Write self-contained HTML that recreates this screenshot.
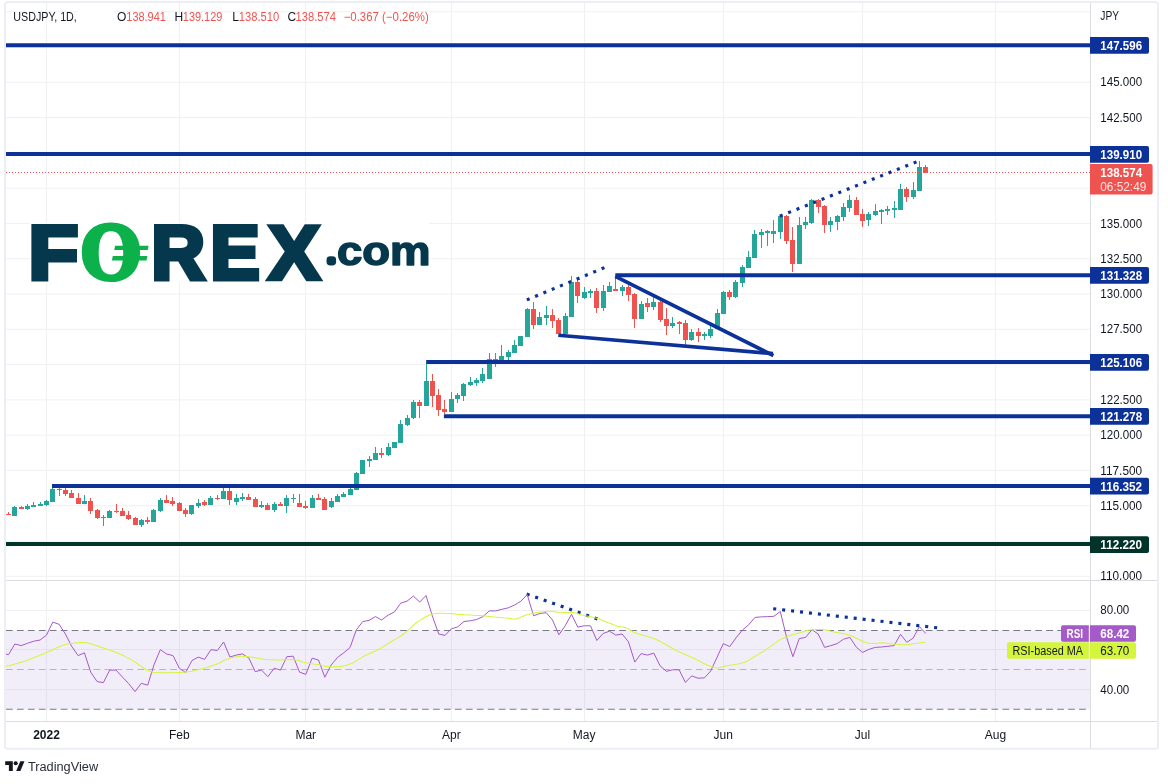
<!DOCTYPE html>
<html lang="en"><head><meta charset="utf-8"><title>USDJPY 1D chart</title>
<style>html,body{margin:0;padding:0;background:#fff}body{width:1168px;height:784px;overflow:hidden}svg{display:block}</style>
</head><body>
<svg width="1168" height="784" viewBox="0 0 1168 784" font-family='"Liberation Sans", sans-serif'>
<rect width="1168" height="784" fill="#fff"/>
<g stroke="#f0f0f2" stroke-width="1" shape-rendering="crispEdges">
<line x1="46.5" y1="2" x2="46.5" y2="721"/>
<line x1="179.5" y1="2" x2="179.5" y2="721"/>
<line x1="305.5" y1="2" x2="305.5" y2="721"/>
<line x1="451.5" y1="2" x2="451.5" y2="721"/>
<line x1="584.5" y1="2" x2="584.5" y2="721"/>
<line x1="723.5" y1="2" x2="723.5" y2="721"/>
<line x1="862.5" y1="2" x2="862.5" y2="721"/>
<line x1="995.5" y1="2" x2="995.5" y2="721"/>
<line x1="5" y1="11.7" x2="1090.5" y2="11.7" shape-rendering="auto"/>
<line x1="5" y1="47.0" x2="1090.5" y2="47.0" shape-rendering="auto"/>
<line x1="5" y1="82.3" x2="1090.5" y2="82.3" shape-rendering="auto"/>
<line x1="5" y1="117.6" x2="1090.5" y2="117.6" shape-rendering="auto"/>
<line x1="5" y1="152.9" x2="1090.5" y2="152.9" shape-rendering="auto"/>
<line x1="5" y1="188.2" x2="1090.5" y2="188.2" shape-rendering="auto"/>
<line x1="5" y1="223.4" x2="1090.5" y2="223.4" shape-rendering="auto"/>
<line x1="5" y1="258.7" x2="1090.5" y2="258.7" shape-rendering="auto"/>
<line x1="5" y1="294.0" x2="1090.5" y2="294.0" shape-rendering="auto"/>
<line x1="5" y1="329.3" x2="1090.5" y2="329.3" shape-rendering="auto"/>
<line x1="5" y1="364.6" x2="1090.5" y2="364.6" shape-rendering="auto"/>
<line x1="5" y1="399.9" x2="1090.5" y2="399.9" shape-rendering="auto"/>
<line x1="5" y1="435.2" x2="1090.5" y2="435.2" shape-rendering="auto"/>
<line x1="5" y1="470.4" x2="1090.5" y2="470.4" shape-rendering="auto"/>
<line x1="5" y1="505.7" x2="1090.5" y2="505.7" shape-rendering="auto"/>
<line x1="5" y1="541.0" x2="1090.5" y2="541.0" shape-rendering="auto"/>
<line x1="5" y1="576.3" x2="1090.5" y2="576.3" shape-rendering="auto"/>
<line x1="5" y1="610" x2="1090.5" y2="610"/>
<line x1="5" y1="649.5" x2="1090.5" y2="649.5"/>
<line x1="5" y1="689.5" x2="1090.5" y2="689.5"/>
</g>
<rect x="78" y="8" width="36" height="7" fill="#fff"/>
<rect x="6" y="630.5" width="1084.5" height="78.79999999999995" fill="#7e57c2" fill-opacity="0.1"/>
<g stroke-width="1.1" fill="none" stroke-dasharray="6.7 4.25">
<line x1="6" y1="630.5" x2="1090.5" y2="630.5" stroke="#787b86"/>
<line x1="6" y1="669.5" x2="1090.5" y2="669.5" stroke="#787b86" stroke-opacity="0.5"/>
<line x1="6" y1="709.3" x2="1090.5" y2="709.3" stroke="#787b86"/>
</g>
<rect x="29.8" y="222.5" width="399.2" height="60" fill="#fff"/>
<g font-family='"Liberation Sans", sans-serif'>
<text transform="translate(28.49 279.10) scale(0.8160 0.7609)" font-size="100" font-weight="bold" fill="#06384d" stroke="#06384d" stroke-width="6.34" stroke-linejoin="miter">F</text>
<text transform="translate(82.35 278.26) scale(0.7386 0.7423)" font-size="100" font-weight="bold" fill="#0db14b" stroke="#0db14b" stroke-width="9.45" stroke-linejoin="round">O</text>
<path d="M110.95 231.29999999999998C119.03 231.29999999999998 123.2 238.66 123.2 252.95C123.2 267.24 119.03 274.59999999999997 110.95 274.59999999999997C102.87 274.59999999999997 98.7 267.24 98.7 252.95C98.7 238.66 102.87 231.29999999999998 110.95 231.29999999999998z" fill="#fff"/>
<text transform="translate(151.42 279.10) scale(0.7397 0.7609)" font-size="100" font-weight="bold" fill="#06384d" stroke="#06384d" stroke-width="6.66" stroke-linejoin="miter">R</text>
<text transform="translate(210.55 279.10) scale(0.7357 0.7609)" font-size="100" font-weight="bold" fill="#06384d" stroke="#06384d" stroke-width="6.68" stroke-linejoin="miter">E</text>
<text transform="translate(268.28 279.35) scale(0.7750 0.7681)" font-size="100" font-weight="bold" fill="#06384d" stroke="#06384d" stroke-width="5.83" stroke-linejoin="miter">X</text>
<text transform="translate(329.25 262.20) scale(0.1500 0.1400)" font-size="100" font-weight="bold" fill="#06384d" stroke="#06384d" stroke-width="49.66" stroke-linejoin="round">.</text>
<text transform="translate(336.88 264.89) scale(0.4554 0.4073)" font-size="100" font-weight="bold" fill="#06384d" stroke="#06384d" stroke-width="3.71" stroke-linejoin="round">com</text>
</g>
<path d="M115.1 245.8H148.6L147.7 250H114.2zM112.8 256.1H147.4L146.5 260.5H111.9z" fill="#0db14b"/>
<g shape-rendering="crispEdges">
<rect x="8" y="512" width="1" height="3" fill="#ef5350"/>
<rect x="6" y="514" width="5" height="1" fill="#ef5350"/>
<rect x="14" y="506" width="1" height="10" fill="#26a69a"/>
<rect x="12" y="507" width="5" height="9" fill="#26a69a"/>
<rect x="21" y="506" width="1" height="3" fill="#ef5350"/>
<rect x="19" y="507" width="5" height="2" fill="#ef5350"/>
<rect x="27" y="504" width="1" height="6" fill="#26a69a"/>
<rect x="25" y="506" width="5" height="3" fill="#26a69a"/>
<rect x="33" y="502" width="1" height="5" fill="#26a69a"/>
<rect x="31" y="505" width="5" height="2" fill="#26a69a"/>
<rect x="40" y="502" width="1" height="4" fill="#26a69a"/>
<rect x="38" y="504" width="5" height="2" fill="#26a69a"/>
<rect x="46" y="500" width="1" height="6" fill="#26a69a"/>
<rect x="44" y="501" width="5" height="4" fill="#26a69a"/>
<rect x="52" y="488" width="1" height="14" fill="#26a69a"/>
<rect x="50" y="489" width="5" height="13" fill="#26a69a"/>
<rect x="59" y="488" width="1" height="8" fill="#ef5350"/>
<rect x="57" y="489" width="5" height="1" fill="#ef5350"/>
<rect x="65" y="488" width="1" height="8" fill="#ef5350"/>
<rect x="63" y="490" width="5" height="4" fill="#ef5350"/>
<rect x="71" y="490" width="1" height="8" fill="#ef5350"/>
<rect x="69" y="493" width="5" height="5" fill="#ef5350"/>
<rect x="78" y="493" width="1" height="11" fill="#ef5350"/>
<rect x="76" y="498" width="5" height="6" fill="#ef5350"/>
<rect x="84" y="495" width="1" height="9" fill="#26a69a"/>
<rect x="82" y="501" width="5" height="3" fill="#26a69a"/>
<rect x="90" y="498" width="1" height="16" fill="#ef5350"/>
<rect x="88" y="501" width="5" height="10" fill="#ef5350"/>
<rect x="97" y="509" width="1" height="10" fill="#ef5350"/>
<rect x="95" y="510" width="5" height="8" fill="#ef5350"/>
<rect x="103" y="515" width="1" height="11" fill="#ef5350"/>
<rect x="101" y="517" width="5" height="1" fill="#ef5350"/>
<rect x="109" y="510" width="1" height="8" fill="#26a69a"/>
<rect x="107" y="511" width="5" height="7" fill="#26a69a"/>
<rect x="116" y="504" width="1" height="9" fill="#ef5350"/>
<rect x="114" y="511" width="5" height="1" fill="#ef5350"/>
<rect x="122" y="508" width="1" height="8" fill="#ef5350"/>
<rect x="120" y="511" width="5" height="5" fill="#ef5350"/>
<rect x="128" y="511" width="1" height="9" fill="#ef5350"/>
<rect x="126" y="515" width="5" height="4" fill="#ef5350"/>
<rect x="135" y="517" width="1" height="8" fill="#ef5350"/>
<rect x="133" y="518" width="5" height="7" fill="#ef5350"/>
<rect x="141" y="519" width="1" height="8" fill="#26a69a"/>
<rect x="139" y="520" width="5" height="5" fill="#26a69a"/>
<rect x="147" y="517" width="1" height="7" fill="#ef5350"/>
<rect x="145" y="520" width="5" height="2" fill="#ef5350"/>
<rect x="153" y="509" width="1" height="13" fill="#26a69a"/>
<rect x="151" y="510" width="5" height="12" fill="#26a69a"/>
<rect x="160" y="498" width="1" height="14" fill="#26a69a"/>
<rect x="158" y="500" width="5" height="11" fill="#26a69a"/>
<rect x="166" y="495" width="1" height="8" fill="#ef5350"/>
<rect x="164" y="500" width="5" height="3" fill="#ef5350"/>
<rect x="172" y="497" width="1" height="9" fill="#ef5350"/>
<rect x="170" y="501" width="5" height="3" fill="#ef5350"/>
<rect x="179" y="502" width="1" height="9" fill="#ef5350"/>
<rect x="177" y="503" width="5" height="8" fill="#ef5350"/>
<rect x="185" y="508" width="1" height="9" fill="#ef5350"/>
<rect x="183" y="510" width="5" height="4" fill="#ef5350"/>
<rect x="191" y="505" width="1" height="10" fill="#26a69a"/>
<rect x="189" y="505" width="5" height="9" fill="#26a69a"/>
<rect x="198" y="499" width="1" height="9" fill="#26a69a"/>
<rect x="196" y="503" width="5" height="3" fill="#26a69a"/>
<rect x="204" y="500" width="1" height="6" fill="#ef5350"/>
<rect x="202" y="502" width="5" height="3" fill="#ef5350"/>
<rect x="210" y="496" width="1" height="9" fill="#26a69a"/>
<rect x="208" y="498" width="5" height="7" fill="#26a69a"/>
<rect x="217" y="495" width="1" height="5" fill="#ef5350"/>
<rect x="215" y="498" width="5" height="1" fill="#ef5350"/>
<rect x="223" y="488" width="1" height="11" fill="#26a69a"/>
<rect x="221" y="491" width="5" height="8" fill="#26a69a"/>
<rect x="229" y="488" width="1" height="17" fill="#ef5350"/>
<rect x="227" y="491" width="5" height="9" fill="#ef5350"/>
<rect x="236" y="494" width="1" height="11" fill="#26a69a"/>
<rect x="234" y="498" width="5" height="4" fill="#26a69a"/>
<rect x="242" y="493" width="1" height="8" fill="#26a69a"/>
<rect x="240" y="497" width="5" height="2" fill="#26a69a"/>
<rect x="248" y="494" width="1" height="6" fill="#ef5350"/>
<rect x="246" y="497" width="5" height="3" fill="#ef5350"/>
<rect x="255" y="497" width="1" height="10" fill="#ef5350"/>
<rect x="253" y="499" width="5" height="8" fill="#ef5350"/>
<rect x="261" y="501" width="1" height="7" fill="#26a69a"/>
<rect x="259" y="505" width="5" height="2" fill="#26a69a"/>
<rect x="267" y="503" width="1" height="7" fill="#ef5350"/>
<rect x="265" y="505" width="5" height="5" fill="#ef5350"/>
<rect x="274" y="502" width="1" height="10" fill="#26a69a"/>
<rect x="272" y="504" width="5" height="6" fill="#26a69a"/>
<rect x="280" y="502" width="1" height="4" fill="#ef5350"/>
<rect x="278" y="504" width="5" height="2" fill="#ef5350"/>
<rect x="286" y="495" width="1" height="18" fill="#26a69a"/>
<rect x="284" y="498" width="5" height="8" fill="#26a69a"/>
<rect x="293" y="494" width="1" height="9" fill="#26a69a"/>
<rect x="291" y="498" width="5" height="1" fill="#26a69a"/>
<rect x="299" y="494" width="1" height="13" fill="#ef5350"/>
<rect x="297" y="503" width="5" height="4" fill="#ef5350"/>
<rect x="305" y="501" width="1" height="8" fill="#ef5350"/>
<rect x="303" y="506" width="5" height="2" fill="#ef5350"/>
<rect x="312" y="495" width="1" height="13" fill="#26a69a"/>
<rect x="310" y="498" width="5" height="10" fill="#26a69a"/>
<rect x="318" y="494" width="1" height="6" fill="#ef5350"/>
<rect x="316" y="498" width="5" height="2" fill="#ef5350"/>
<rect x="324" y="497" width="1" height="13" fill="#ef5350"/>
<rect x="322" y="499" width="5" height="11" fill="#ef5350"/>
<rect x="331" y="498" width="1" height="10" fill="#26a69a"/>
<rect x="329" y="501" width="5" height="6" fill="#26a69a"/>
<rect x="337" y="494" width="1" height="8" fill="#26a69a"/>
<rect x="335" y="496" width="5" height="6" fill="#26a69a"/>
<rect x="343" y="492" width="1" height="5" fill="#26a69a"/>
<rect x="341" y="494" width="5" height="3" fill="#26a69a"/>
<rect x="350" y="488" width="1" height="7" fill="#26a69a"/>
<rect x="348" y="489" width="5" height="6" fill="#26a69a"/>
<rect x="356" y="472" width="1" height="18" fill="#26a69a"/>
<rect x="354" y="473" width="5" height="17" fill="#26a69a"/>
<rect x="362" y="460" width="1" height="14" fill="#26a69a"/>
<rect x="360" y="460" width="5" height="14" fill="#26a69a"/>
<rect x="369" y="456" width="1" height="11" fill="#26a69a"/>
<rect x="367" y="459" width="5" height="2" fill="#26a69a"/>
<rect x="375" y="447" width="1" height="13" fill="#26a69a"/>
<rect x="373" y="453" width="5" height="7" fill="#26a69a"/>
<rect x="381" y="448" width="1" height="10" fill="#ef5350"/>
<rect x="379" y="453" width="5" height="2" fill="#ef5350"/>
<rect x="388" y="443" width="1" height="13" fill="#26a69a"/>
<rect x="386" y="447" width="5" height="8" fill="#26a69a"/>
<rect x="394" y="442" width="1" height="6" fill="#26a69a"/>
<rect x="392" y="442" width="5" height="6" fill="#26a69a"/>
<rect x="400" y="420" width="1" height="23" fill="#26a69a"/>
<rect x="398" y="424" width="5" height="19" fill="#26a69a"/>
<rect x="407" y="415" width="1" height="11" fill="#26a69a"/>
<rect x="405" y="418" width="5" height="7" fill="#26a69a"/>
<rect x="413" y="400" width="1" height="19" fill="#26a69a"/>
<rect x="411" y="402" width="5" height="16" fill="#26a69a"/>
<rect x="419" y="400" width="1" height="18" fill="#ef5350"/>
<rect x="417" y="402" width="5" height="4" fill="#ef5350"/>
<rect x="426" y="363" width="1" height="43" fill="#26a69a"/>
<rect x="424" y="381" width="5" height="25" fill="#26a69a"/>
<rect x="432" y="374" width="1" height="33" fill="#ef5350"/>
<rect x="430" y="381" width="5" height="15" fill="#ef5350"/>
<rect x="438" y="389" width="1" height="27" fill="#ef5350"/>
<rect x="436" y="395" width="5" height="15" fill="#ef5350"/>
<rect x="444" y="400" width="1" height="14" fill="#ef5350"/>
<rect x="442" y="409" width="5" height="3" fill="#ef5350"/>
<rect x="451" y="392" width="1" height="20" fill="#26a69a"/>
<rect x="449" y="399" width="5" height="13" fill="#26a69a"/>
<rect x="457" y="393" width="1" height="10" fill="#26a69a"/>
<rect x="455" y="395" width="5" height="4" fill="#26a69a"/>
<rect x="463" y="383" width="1" height="18" fill="#26a69a"/>
<rect x="461" y="384" width="5" height="12" fill="#26a69a"/>
<rect x="470" y="377" width="1" height="9" fill="#26a69a"/>
<rect x="468" y="382" width="5" height="3" fill="#26a69a"/>
<rect x="476" y="378" width="1" height="8" fill="#26a69a"/>
<rect x="474" y="380" width="5" height="3" fill="#26a69a"/>
<rect x="482" y="368" width="1" height="15" fill="#26a69a"/>
<rect x="480" y="374" width="5" height="7" fill="#26a69a"/>
<rect x="489" y="353" width="1" height="26" fill="#26a69a"/>
<rect x="487" y="359" width="5" height="20" fill="#26a69a"/>
<rect x="495" y="353" width="1" height="14" fill="#ef5350"/>
<rect x="493" y="359" width="5" height="1" fill="#ef5350"/>
<rect x="501" y="345" width="1" height="15" fill="#26a69a"/>
<rect x="499" y="356" width="5" height="4" fill="#26a69a"/>
<rect x="508" y="350" width="1" height="10" fill="#26a69a"/>
<rect x="506" y="352" width="5" height="5" fill="#26a69a"/>
<rect x="514" y="340" width="1" height="13" fill="#26a69a"/>
<rect x="512" y="345" width="5" height="8" fill="#26a69a"/>
<rect x="520" y="336" width="1" height="10" fill="#26a69a"/>
<rect x="518" y="336" width="5" height="10" fill="#26a69a"/>
<rect x="527" y="308" width="1" height="29" fill="#26a69a"/>
<rect x="525" y="309" width="5" height="28" fill="#26a69a"/>
<rect x="533" y="302" width="1" height="27" fill="#ef5350"/>
<rect x="531" y="309" width="5" height="16" fill="#ef5350"/>
<rect x="539" y="312" width="1" height="13" fill="#26a69a"/>
<rect x="537" y="317" width="5" height="8" fill="#26a69a"/>
<rect x="546" y="306" width="1" height="19" fill="#26a69a"/>
<rect x="544" y="315" width="5" height="3" fill="#26a69a"/>
<rect x="552" y="309" width="1" height="19" fill="#ef5350"/>
<rect x="550" y="315" width="5" height="6" fill="#ef5350"/>
<rect x="558" y="318" width="1" height="16" fill="#ef5350"/>
<rect x="556" y="320" width="5" height="14" fill="#ef5350"/>
<rect x="565" y="313" width="1" height="21" fill="#26a69a"/>
<rect x="563" y="316" width="5" height="18" fill="#26a69a"/>
<rect x="571" y="276" width="1" height="41" fill="#26a69a"/>
<rect x="569" y="282" width="5" height="35" fill="#26a69a"/>
<rect x="577" y="279" width="1" height="24" fill="#ef5350"/>
<rect x="575" y="282" width="5" height="14" fill="#ef5350"/>
<rect x="584" y="287" width="1" height="12" fill="#26a69a"/>
<rect x="582" y="292" width="5" height="6" fill="#26a69a"/>
<rect x="590" y="289" width="1" height="9" fill="#26a69a"/>
<rect x="588" y="291" width="5" height="2" fill="#26a69a"/>
<rect x="596" y="288" width="1" height="25" fill="#ef5350"/>
<rect x="594" y="291" width="5" height="17" fill="#ef5350"/>
<rect x="603" y="285" width="1" height="26" fill="#26a69a"/>
<rect x="601" y="291" width="5" height="17" fill="#26a69a"/>
<rect x="609" y="282" width="1" height="10" fill="#26a69a"/>
<rect x="607" y="286" width="5" height="6" fill="#26a69a"/>
<rect x="615" y="277" width="1" height="14" fill="#ef5350"/>
<rect x="613" y="289" width="5" height="2" fill="#ef5350"/>
<rect x="622" y="285" width="1" height="11" fill="#26a69a"/>
<rect x="620" y="287" width="5" height="4" fill="#26a69a"/>
<rect x="628" y="285" width="1" height="16" fill="#ef5350"/>
<rect x="626" y="287" width="5" height="8" fill="#ef5350"/>
<rect x="634" y="293" width="1" height="35" fill="#ef5350"/>
<rect x="632" y="294" width="5" height="25" fill="#ef5350"/>
<rect x="641" y="301" width="1" height="18" fill="#26a69a"/>
<rect x="639" y="304" width="5" height="15" fill="#26a69a"/>
<rect x="647" y="298" width="1" height="14" fill="#ef5350"/>
<rect x="645" y="303" width="5" height="4" fill="#ef5350"/>
<rect x="653" y="297" width="1" height="13" fill="#26a69a"/>
<rect x="651" y="302" width="5" height="5" fill="#26a69a"/>
<rect x="660" y="301" width="1" height="21" fill="#ef5350"/>
<rect x="658" y="302" width="5" height="18" fill="#ef5350"/>
<rect x="666" y="308" width="1" height="27" fill="#ef5350"/>
<rect x="664" y="319" width="5" height="7" fill="#ef5350"/>
<rect x="672" y="317" width="1" height="11" fill="#26a69a"/>
<rect x="670" y="323" width="5" height="3" fill="#26a69a"/>
<rect x="679" y="321" width="1" height="13" fill="#ef5350"/>
<rect x="677" y="322" width="5" height="2" fill="#ef5350"/>
<rect x="685" y="320" width="1" height="25" fill="#ef5350"/>
<rect x="683" y="323" width="5" height="17" fill="#ef5350"/>
<rect x="691" y="329" width="1" height="12" fill="#26a69a"/>
<rect x="689" y="332" width="5" height="8" fill="#26a69a"/>
<rect x="698" y="328" width="1" height="14" fill="#ef5350"/>
<rect x="696" y="332" width="5" height="4" fill="#ef5350"/>
<rect x="704" y="332" width="1" height="8" fill="#26a69a"/>
<rect x="702" y="334" width="5" height="2" fill="#26a69a"/>
<rect x="710" y="326" width="1" height="12" fill="#26a69a"/>
<rect x="708" y="329" width="5" height="7" fill="#26a69a"/>
<rect x="717" y="309" width="1" height="20" fill="#26a69a"/>
<rect x="715" y="313" width="5" height="16" fill="#26a69a"/>
<rect x="723" y="291" width="1" height="23" fill="#26a69a"/>
<rect x="721" y="292" width="5" height="22" fill="#26a69a"/>
<rect x="729" y="290" width="1" height="10" fill="#ef5350"/>
<rect x="727" y="292" width="5" height="5" fill="#ef5350"/>
<rect x="735" y="280" width="1" height="18" fill="#26a69a"/>
<rect x="733" y="282" width="5" height="15" fill="#26a69a"/>
<rect x="742" y="265" width="1" height="22" fill="#26a69a"/>
<rect x="740" y="267" width="5" height="16" fill="#26a69a"/>
<rect x="748" y="251" width="1" height="17" fill="#26a69a"/>
<rect x="746" y="257" width="5" height="11" fill="#26a69a"/>
<rect x="754" y="230" width="1" height="28" fill="#26a69a"/>
<rect x="752" y="234" width="5" height="24" fill="#26a69a"/>
<rect x="761" y="229" width="1" height="19" fill="#26a69a"/>
<rect x="759" y="232" width="5" height="3" fill="#26a69a"/>
<rect x="767" y="230" width="1" height="16" fill="#26a69a"/>
<rect x="765" y="231" width="5" height="2" fill="#26a69a"/>
<rect x="773" y="220" width="1" height="23" fill="#26a69a"/>
<rect x="771" y="231" width="5" height="3" fill="#26a69a"/>
<rect x="780" y="215" width="1" height="24" fill="#26a69a"/>
<rect x="778" y="216" width="5" height="16" fill="#26a69a"/>
<rect x="786" y="215" width="1" height="29" fill="#ef5350"/>
<rect x="784" y="216" width="5" height="25" fill="#ef5350"/>
<rect x="792" y="227" width="1" height="45" fill="#ef5350"/>
<rect x="790" y="240" width="5" height="24" fill="#ef5350"/>
<rect x="799" y="217" width="1" height="47" fill="#26a69a"/>
<rect x="797" y="225" width="5" height="39" fill="#26a69a"/>
<rect x="805" y="217" width="1" height="12" fill="#26a69a"/>
<rect x="803" y="222" width="5" height="3" fill="#26a69a"/>
<rect x="811" y="199" width="1" height="25" fill="#26a69a"/>
<rect x="809" y="200" width="5" height="23" fill="#26a69a"/>
<rect x="818" y="199" width="1" height="14" fill="#ef5350"/>
<rect x="816" y="200" width="5" height="7" fill="#ef5350"/>
<rect x="824" y="205" width="1" height="28" fill="#ef5350"/>
<rect x="822" y="206" width="5" height="19" fill="#ef5350"/>
<rect x="830" y="217" width="1" height="15" fill="#26a69a"/>
<rect x="828" y="221" width="5" height="4" fill="#26a69a"/>
<rect x="837" y="215" width="1" height="15" fill="#26a69a"/>
<rect x="835" y="216" width="5" height="6" fill="#26a69a"/>
<rect x="843" y="203" width="1" height="18" fill="#26a69a"/>
<rect x="841" y="207" width="5" height="10" fill="#26a69a"/>
<rect x="849" y="195" width="1" height="17" fill="#26a69a"/>
<rect x="847" y="200" width="5" height="8" fill="#26a69a"/>
<rect x="856" y="197" width="1" height="18" fill="#ef5350"/>
<rect x="854" y="200" width="5" height="15" fill="#ef5350"/>
<rect x="862" y="209" width="1" height="18" fill="#ef5350"/>
<rect x="860" y="214" width="5" height="7" fill="#ef5350"/>
<rect x="868" y="212" width="1" height="14" fill="#26a69a"/>
<rect x="866" y="214" width="5" height="6" fill="#26a69a"/>
<rect x="875" y="204" width="1" height="12" fill="#26a69a"/>
<rect x="873" y="211" width="5" height="4" fill="#26a69a"/>
<rect x="881" y="209" width="1" height="15" fill="#26a69a"/>
<rect x="879" y="210" width="5" height="2" fill="#26a69a"/>
<rect x="887" y="206" width="1" height="9" fill="#26a69a"/>
<rect x="885" y="209" width="5" height="2" fill="#26a69a"/>
<rect x="894" y="201" width="1" height="17" fill="#26a69a"/>
<rect x="892" y="208" width="5" height="2" fill="#26a69a"/>
<rect x="900" y="184" width="1" height="26" fill="#26a69a"/>
<rect x="898" y="189" width="5" height="21" fill="#26a69a"/>
<rect x="906" y="187" width="1" height="15" fill="#ef5350"/>
<rect x="904" y="189" width="5" height="8" fill="#ef5350"/>
<rect x="913" y="182" width="1" height="17" fill="#26a69a"/>
<rect x="911" y="190" width="5" height="7" fill="#26a69a"/>
<rect x="919" y="161" width="1" height="30" fill="#26a69a"/>
<rect x="917" y="167" width="5" height="24" fill="#26a69a"/>
<rect x="925" y="165" width="1" height="8" fill="#ef5350"/>
<rect x="923" y="167" width="5" height="6" fill="#ef5350"/>
</g>
<line x1="6" y1="172.5" x2="1090.5" y2="172.5" stroke="#ef5350" stroke-width="1" stroke-dasharray="1 2" shape-rendering="crispEdges"/>
<line x1="5" y1="45.2" x2="1090.5" y2="45.2" stroke="#0c3299" stroke-width="4"/>
<line x1="5" y1="154.0" x2="1090.5" y2="154.0" stroke="#0c3299" stroke-width="4"/>
<line x1="615.3" y1="275.2" x2="1090.5" y2="275.2" stroke="#0c3299" stroke-width="4"/>
<line x1="426.2" y1="362.0" x2="1090.5" y2="362.0" stroke="#0c3299" stroke-width="4"/>
<line x1="443.9" y1="416.2" x2="1090.5" y2="416.2" stroke="#0c3299" stroke-width="4"/>
<line x1="52" y1="486.0" x2="1090.5" y2="486.0" stroke="#0c3299" stroke-width="4"/>
<line x1="5" y1="544.1" x2="1090.5" y2="544.1" stroke="#00332a" stroke-width="4"/>
<g stroke="#0c3299" stroke-width="3.6" fill="none" stroke-linecap="butt">
<line x1="615.3" y1="276.3" x2="773.4" y2="355.6"/>
<line x1="558.3" y1="335.3" x2="773" y2="353.6"/>
</g>
<g stroke="#0c3299" stroke-width="3.15" fill="none" stroke-dasharray="3.05 5.95">
<line x1="526.8" y1="299.9" x2="604.5" y2="267.6"/>
<line x1="779.8" y1="216.1" x2="916.6" y2="161.8"/>
<line x1="526.7" y1="594.1" x2="598" y2="619.2"/>
<line x1="773.2" y1="608.7" x2="938" y2="627.9"/>
</g>
<polyline fill="none" stroke="#a45ac8" stroke-width="1.0" stroke-linejoin="round" points="5.8,654.0 8.5,654.7 14.8,644.0 21.2,645.6 27.5,643.3 33.8,641.2 40.1,640.0 46.5,635.1 52.8,622.1 59.1,624.3 65.4,634.0 71.8,646.6 78.1,655.6 84.4,652.8 90.7,672.1 97.1,681.6 103.4,682.6 109.7,670.1 116.0,670.1 122.4,677.0 128.7,683.6 135.0,691.6 141.3,683.3 147.7,685.2 154.0,664.8 160.3,649.7 166.6,654.0 173.0,655.6 179.3,668.2 185.6,672.5 192.0,660.5 198.3,657.1 204.6,659.4 210.9,649.7 217.3,650.5 223.6,642.0 229.9,657.0 236.2,655.1 242.6,653.9 248.9,658.2 255.2,671.6 261.5,670.1 267.9,676.7 274.2,668.2 280.5,670.1 286.8,656.7 293.2,656.2 299.5,672.1 305.8,674.4 312.1,658.2 318.5,660.0 324.8,677.2 331.1,665.1 337.5,657.4 343.8,652.8 350.1,647.4 356.4,629.7 362.8,621.5 369.1,620.4 375.4,616.6 381.7,620.0 388.1,615.1 394.4,612.0 400.7,603.2 407.0,601.2 413.4,596.1 419.7,602.0 426.0,595.5 432.3,615.8 438.7,634.0 445.0,635.4 451.3,628.9 457.6,626.9 464.0,621.5 470.3,620.8 476.6,619.5 482.9,616.6 489.3,610.9 495.6,610.9 501.9,609.3 508.3,607.8 514.6,605.0 520.9,601.2 527.2,594.6 533.6,615.8 539.9,613.5 546.2,612.7 552.5,620.0 558.9,634.8 565.2,625.8 571.5,614.3 577.8,627.1 584.2,625.8 590.5,625.8 596.8,640.5 603.1,633.5 609.5,631.2 615.8,635.1 622.1,634.0 628.4,641.7 634.8,662.1 641.1,653.6 647.4,655.1 653.8,653.1 660.1,665.9 666.4,671.3 672.7,669.8 679.1,669.8 685.4,682.4 691.7,675.9 698.0,678.2 704.4,677.9 710.7,671.0 717.0,657.4 723.3,643.6 729.7,646.6 736.0,637.9 742.3,630.2 748.6,624.8 755.0,617.4 761.3,616.9 767.6,616.6 773.9,616.3 780.3,611.5 786.6,637.4 792.9,656.7 799.2,638.6 805.6,637.4 811.9,629.7 818.2,634.0 824.6,647.4 830.9,645.6 837.2,643.6 843.5,639.2 849.9,637.4 856.2,647.0 862.5,652.5 868.8,649.4 875.2,647.4 881.5,647.0 887.8,646.3 894.1,645.6 900.5,634.3 906.8,642.3 913.1,638.2 919.4,626.6 925.8,633.5"/>
<polyline fill="none" stroke="#d4f53c" stroke-width="1.05" stroke-linejoin="round" points="5.8,666.4 8.8,665.7 11.8,664.9 14.8,664.1 17.8,663.3 20.8,662.3 23.8,661.4 26.8,660.4 29.8,659.3 32.8,658.1 35.8,657.0 38.8,655.8 41.8,654.6 44.8,653.4 47.8,652.1 50.8,650.7 53.8,649.2 56.8,647.8 59.8,646.4 62.8,645.2 65.8,644.3 68.8,643.8 71.8,643.4 74.8,643.0 77.8,642.8 80.8,642.6 83.8,642.5 86.8,642.8 89.8,643.5 92.8,644.4 95.8,645.3 98.8,646.4 101.8,647.5 104.8,648.6 107.8,649.6 110.8,650.6 113.8,651.6 116.8,652.7 119.8,653.9 122.8,655.3 125.8,656.9 128.8,658.4 131.8,660.1 134.8,661.9 137.8,664.0 140.8,666.2 143.8,668.3 146.8,670.0 149.8,671.3 152.8,672.3 155.8,672.6 158.8,672.7 161.8,672.7 164.8,672.8 167.8,672.8 170.8,672.8 173.8,672.7 176.8,672.6 179.8,672.5 182.8,672.3 185.8,672.1 188.8,671.7 191.8,671.2 194.8,670.5 197.8,669.7 200.8,669.0 203.8,668.3 206.8,667.5 209.8,666.6 212.8,665.6 215.8,664.6 218.8,663.2 221.8,661.5 224.8,660.1 227.8,659.0 230.8,658.0 233.8,657.3 236.8,656.8 239.8,656.3 242.8,656.2 245.8,656.4 248.8,656.8 251.8,657.2 254.8,657.7 257.8,658.2 260.8,658.8 263.8,659.2 266.8,659.5 269.8,659.7 272.8,659.8 275.8,659.9 278.8,659.9 281.8,659.9 284.8,659.8 287.8,659.7 290.8,659.6 293.8,659.6 296.8,660.1 299.8,661.0 302.8,662.1 305.8,662.8 308.8,663.3 311.8,663.8 314.8,664.2 317.8,664.6 320.8,665.3 323.8,665.9 326.8,666.4 329.8,666.7 332.8,666.7 335.8,666.7 338.8,666.7 341.8,666.3 344.8,665.7 347.8,664.8 350.8,663.8 353.8,662.4 356.8,660.6 359.8,658.6 362.8,656.9 365.8,655.3 368.8,653.9 371.8,652.6 374.8,651.2 377.8,649.7 380.8,648.1 383.8,646.3 386.8,644.4 389.8,642.5 392.8,640.7 395.8,638.9 398.8,637.1 401.8,635.2 404.8,633.1 407.8,630.7 410.8,627.8 413.8,624.9 416.8,622.5 419.8,620.4 422.8,618.5 425.8,616.8 428.8,615.3 431.8,614.0 434.8,613.4 437.8,613.3 440.8,613.2 443.8,613.2 446.8,613.4 449.8,613.6 452.8,613.8 455.8,614.1 458.8,614.4 461.8,614.6 464.8,614.8 467.8,614.9 470.8,615.1 473.8,615.2 476.8,615.4 479.8,615.6 482.8,615.8 485.8,616.1 488.8,616.4 491.8,616.7 494.8,617.0 497.8,617.2 500.8,617.4 503.8,617.7 506.8,617.9 509.8,618.3 512.8,619.0 515.8,619.0 518.8,617.9 521.8,616.8 524.8,615.6 527.8,614.5 530.8,613.7 533.8,613.1 536.8,612.6 539.8,612.1 542.8,611.8 545.8,611.4 548.8,611.2 551.8,611.3 554.8,611.8 557.8,612.4 560.8,612.7 563.8,612.6 566.8,612.5 569.8,612.4 572.8,612.5 575.8,613.1 578.8,614.0 581.8,615.0 584.8,615.6 587.8,616.2 590.8,616.8 593.8,617.5 596.8,618.2 599.8,619.2 602.8,620.4 605.8,621.7 608.8,622.9 611.8,624.1 614.8,625.3 617.8,626.2 620.8,626.8 623.8,627.3 626.8,628.1 629.8,629.7 632.8,631.8 635.8,633.0 638.8,634.0 641.8,634.9 644.8,635.8 647.8,636.6 650.8,637.4 653.8,638.4 656.8,639.7 659.8,641.3 662.8,642.9 665.8,644.5 668.8,646.2 671.8,648.0 674.8,649.7 677.8,651.2 680.8,652.6 683.8,654.0 686.8,655.3 689.8,656.6 692.8,657.9 695.8,659.2 698.8,660.7 701.8,662.4 704.8,664.0 707.8,665.3 710.8,666.4 713.8,667.4 716.8,667.9 719.8,667.6 722.8,666.8 725.8,666.0 728.8,665.5 731.8,665.0 734.8,664.6 737.8,664.1 740.8,663.5 743.8,662.6 746.8,661.2 749.8,659.6 752.8,657.7 755.8,655.9 758.8,654.1 761.8,652.3 764.8,650.4 767.8,648.4 770.8,646.4 773.8,644.2 776.8,641.9 779.8,639.9 782.8,638.4 785.8,637.1 788.8,636.1 791.8,635.1 794.8,634.2 797.8,633.3 800.8,632.4 803.8,631.4 806.8,630.6 809.8,630.0 812.8,629.7 815.8,629.5 818.8,629.4 821.8,629.4 824.8,629.7 827.8,630.3 830.8,631.2 833.8,631.9 836.8,632.5 839.8,633.0 842.8,633.6 845.8,634.2 848.8,634.9 851.8,636.0 854.8,637.5 857.8,639.0 860.8,640.4 863.8,641.8 866.8,642.8 869.8,643.2 872.8,643.5 875.8,643.5 878.8,643.0 881.8,642.8 884.8,643.0 887.8,643.4 890.8,643.7 893.8,643.9 896.8,644.3 899.8,644.5 902.8,644.7 905.8,644.8 908.8,644.6 911.8,644.1 914.8,643.6 917.8,643.2 920.8,642.7 923.8,642.3 925.5,642.0"/>
<g stroke="#dcdde1" stroke-width="1" fill="none" shape-rendering="crispEdges">
<line x1="1090.5" y1="2" x2="1090.5" y2="748"/>
<line x1="5" y1="580.5" x2="1158" y2="580.5"/>
<line x1="5" y1="721.5" x2="1158" y2="721.5"/>
</g>
<rect x="5" y="2" width="1153" height="746.7" rx="2.5" fill="none" stroke="#eceef4" stroke-width="2"/>
<g font-size="12" fill="#131722">
<text x="1100.3" y="19.9" textLength="18.8" lengthAdjust="spacingAndGlyphs">JPY</text>
<text x="1100.3" y="86.4" textLength="41.8" lengthAdjust="spacingAndGlyphs">145.000</text>
<text x="1100.3" y="121.7" textLength="41.8" lengthAdjust="spacingAndGlyphs">142.500</text>
<text x="1100.3" y="227.5" textLength="41.8" lengthAdjust="spacingAndGlyphs">135.000</text>
<text x="1100.3" y="262.8" textLength="41.8" lengthAdjust="spacingAndGlyphs">132.500</text>
<text x="1100.3" y="298.1" textLength="41.8" lengthAdjust="spacingAndGlyphs">130.000</text>
<text x="1100.3" y="333.4" textLength="41.8" lengthAdjust="spacingAndGlyphs">127.500</text>
<text x="1100.3" y="404.0" textLength="41.8" lengthAdjust="spacingAndGlyphs">122.500</text>
<text x="1100.3" y="439.2" textLength="41.8" lengthAdjust="spacingAndGlyphs">120.000</text>
<text x="1100.3" y="474.5" textLength="41.8" lengthAdjust="spacingAndGlyphs">117.500</text>
<text x="1100.3" y="509.8" textLength="41.8" lengthAdjust="spacingAndGlyphs">115.000</text>
<text x="1100.3" y="579.7" textLength="41.8" lengthAdjust="spacingAndGlyphs">110.000</text>
<text x="1100.3" y="614.2" textLength="29" lengthAdjust="spacingAndGlyphs">80.00</text>
<text x="1100.3" y="693.7" textLength="29" lengthAdjust="spacingAndGlyphs">40.00</text>
</g>
<path d="M1090.0 37.0h57a2 2 0 0 1 2 2v12.8a2 2 0 0 1 -2 2h-57z" fill="#0c3299"/>
<text x="1100.3" y="49.8" font-size="12" font-weight="bold" fill="#fff" textLength="41.8" lengthAdjust="spacingAndGlyphs">147.596</text>
<path d="M1090.0 146.0h57a2 2 0 0 1 2 2v12.8a2 2 0 0 1 -2 2h-57z" fill="#0c3299"/>
<text x="1100.3" y="158.8" font-size="12" font-weight="bold" fill="#fff" textLength="41.8" lengthAdjust="spacingAndGlyphs">139.910</text>
<path d="M1090.0 266.90000000000003h57a2 2 0 0 1 2 2v12.8a2 2 0 0 1 -2 2h-57z" fill="#0c3299"/>
<text x="1100.3" y="279.7" font-size="12" font-weight="bold" fill="#fff" textLength="41.8" lengthAdjust="spacingAndGlyphs">131.328</text>
<path d="M1090.0 353.90000000000003h57a2 2 0 0 1 2 2v12.8a2 2 0 0 1 -2 2h-57z" fill="#0c3299"/>
<text x="1100.3" y="366.7" font-size="12" font-weight="bold" fill="#fff" textLength="41.8" lengthAdjust="spacingAndGlyphs">125.106</text>
<path d="M1090.0 408.0h57a2 2 0 0 1 2 2v12.8a2 2 0 0 1 -2 2h-57z" fill="#0c3299"/>
<text x="1100.3" y="420.8" font-size="12" font-weight="bold" fill="#fff" textLength="41.8" lengthAdjust="spacingAndGlyphs">121.278</text>
<path d="M1090.0 477.8h57a2 2 0 0 1 2 2v12.8a2 2 0 0 1 -2 2h-57z" fill="#0c3299"/>
<text x="1100.3" y="490.6" font-size="12" font-weight="bold" fill="#fff" textLength="41.8" lengthAdjust="spacingAndGlyphs">116.352</text>
<path d="M1090.0 536.2h57a2 2 0 0 1 2 2v12.8a2 2 0 0 1 -2 2h-57z" fill="#00332a"/>
<text x="1100.3" y="549.0" font-size="12" font-weight="bold" fill="#fff" textLength="41.8" lengthAdjust="spacingAndGlyphs">112.220</text>
<path d="M1090.0 164h60.6a2 2 0 0 1 2 2v26.4a2 2 0 0 1 -2 2h-60.6z" fill="#ef5350"/>
<text x="1100.3" y="177" font-size="12" font-weight="bold" fill="#fff" textLength="41.8" lengthAdjust="spacingAndGlyphs">138.574</text>
<text x="1100.3" y="190.6" font-size="12" fill="#fff" fill-opacity="0.85" textLength="46" lengthAdjust="spacingAndGlyphs">06:52:49</text>
<path d="M1063 625.2h25.8v16.6h-25.8a2 2 0 0 1 -2 -2v-12.6a2 2 0 0 1 2 -2z" fill="#a45ac8"/>
<path d="M1090 625.2h44a2 2 0 0 1 2 2v12.6a2 2 0 0 1 -2 2h-44z" fill="#a45ac8"/>
<text x="1066.5" y="637.8" font-size="12" font-weight="bold" fill="#fff" textLength="16.5" lengthAdjust="spacingAndGlyphs">RSI</text>
<text x="1100.3" y="637.8" font-size="12" font-weight="bold" fill="#fff" textLength="29" lengthAdjust="spacingAndGlyphs">68.42</text>
<path d="M1009 642.3h79.8v16.5h-79.8a2 2 0 0 1 -2 -2v-12.5a2 2 0 0 1 2 -2z" fill="#d4f53c"/>
<path d="M1090 642.3h44a2 2 0 0 1 2 2v12.5a2 2 0 0 1 -2 2h-44z" fill="#d4f53c"/>
<text x="1012.5" y="654.8" font-size="12" fill="#131722" textLength="70.5" lengthAdjust="spacingAndGlyphs">RSI-based MA</text>
<text x="1100.3" y="654.8" font-size="12" fill="#131722" textLength="29" lengthAdjust="spacingAndGlyphs">63.70</text>
<g font-size="12" fill="#131722" text-anchor="middle">
<text x="46.5" y="739.3" font-weight="bold">2022</text>
<text x="179.3" y="739.3">Feb</text>
<text x="305.8" y="739.3">Mar</text>
<text x="451.3" y="739.3">Apr</text>
<text x="584.2" y="739.3">May</text>
<text x="723.3" y="739.3">Jun</text>
<text x="862.5" y="739.3">Jul</text>
<text x="995.4" y="739.3">Aug</text>
</g>
<g font-size="12">
<text x="13.3" y="20.5" fill="#131722" textLength="63.5" lengthAdjust="spacingAndGlyphs">USDJPY, 1D,</text>
<text x="117" y="20.5" fill="#131722">O</text>
<text x="126.3" y="20.5" fill="#ef5350" textLength="39.6" lengthAdjust="spacingAndGlyphs">138.941</text>
<text x="174.5" y="20.5" fill="#131722">H</text>
<text x="182.8" y="20.5" fill="#ef5350" textLength="39.6" lengthAdjust="spacingAndGlyphs">139.129</text>
<text x="232.2" y="20.5" fill="#131722">L</text>
<text x="238.8" y="20.5" fill="#ef5350" textLength="40.4" lengthAdjust="spacingAndGlyphs">138.510</text>
<text x="287.6" y="20.5" fill="#131722">C</text>
<text x="295.5" y="20.5" fill="#ef5350" textLength="40.4" lengthAdjust="spacingAndGlyphs">138.574</text>
<text x="343.7" y="20.5" fill="#ef5350" textLength="85" lengthAdjust="spacingAndGlyphs">−0.367 (−0.26%)</text>
</g>
<g fill="#131722">
<path d="M5.2 761.2h7.6v9.7h-3.9v-5.8h-3.7z"/><circle cx="15.7" cy="763.3" r="2.05"/><path d="M20.3 761.2h4.2l-4.1 9.7h-4.2z"/>
<text x="27.9" y="770.8" font-size="12.5" textLength="70.3" lengthAdjust="spacingAndGlyphs" fill="#2a2e39">TradingView</text>
</g>
</svg>
</body></html>
